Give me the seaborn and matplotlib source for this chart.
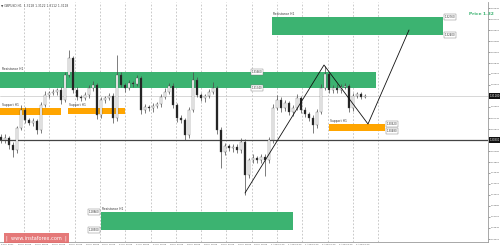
import numpy as np
import pandas as pd
import matplotlib
matplotlib.use("Agg")
import matplotlib.pyplot as plt
from matplotlib.patches import Rectangle
from matplotlib.transforms import blended_transform_factory
import seaborn as sns

# ---------------- data ----------------
closes = [1.3030, 1.3034, 1.3020, 1.3010, 1.3054, 1.3090, 1.3070, 1.3064, 1.3068, 1.3050,
          1.3100, 1.3120, 1.3124, 1.3126, 1.3130, 1.3110, 1.3160, 1.3194, 1.3130, 1.3116,
          1.3114, 1.3120, 1.3134, 1.3140, 1.3080, 1.3110, 1.3114, 1.3118, 1.3074, 1.3160,
          1.3140, 1.3134, 1.3144, 1.3142, 1.3154, 1.3090, 1.3096, 1.3094, 1.3098, 1.3102,
          1.3116, 1.3126, 1.3138, 1.3100, 1.3074, 1.3070, 1.3040, 1.3090, 1.3150, 1.3120,
          1.3114, 1.3118, 1.3126, 1.3134, 1.3050, 1.3006, 1.3018, 1.3014, 1.3016, 1.3010,
          1.3026, 1.2960, 1.2990, 1.2994, 1.2990, 1.2996, 1.2990, 1.3030, 1.3094, 1.3110,
          1.3094, 1.3104, 1.3086, 1.3094, 1.3114, 1.3090, 1.3082, 1.3074, 1.3060, 1.3086,
          1.3134, 1.3162, 1.3130, 1.3134, 1.3130, 1.3136, 1.3138, 1.3094, 1.3118, 1.3122,
          1.3116, 1.3118]
first_open = 1.3036
upper_wick = [0.0006, 0.0008, 0.0004, 0.0006, 0.0005, 0.0010, 0.0006, 0.0004, 0.0007, 0.0005,
              0.0006, 0.0008, 0.0005, 0.0006, 0.0004, 0.0007, 0.0006, 0.0016, 0.0005, 0.0006,
              0.0004, 0.0007, 0.0006, 0.0008, 0.0005, 0.0006, 0.0004, 0.0006, 0.0005, 0.0040,
              0.0006, 0.0005, 0.0007, 0.0004, 0.0006, 0.0005, 0.0006, 0.0004, 0.0007, 0.0005,
              0.0006, 0.0008, 0.0006, 0.0005, 0.0004, 0.0006, 0.0005, 0.0007, 0.0016, 0.0006,
              0.0005, 0.0004, 0.0007, 0.0012, 0.0005, 0.0006, 0.0007, 0.0004, 0.0006, 0.0005,
              0.0008, 0.0006, 0.0005, 0.0007, 0.0004, 0.0006, 0.0005, 0.0006, 0.0008, 0.0010,
              0.0006, 0.0007, 0.0005, 0.0006, 0.0008, 0.0004, 0.0006, 0.0005, 0.0006, 0.0007,
              0.0008, 0.0016, 0.0005, 0.0006, 0.0008, 0.0005, 0.0006, 0.0004, 0.0006, 0.0005,
              0.0004, 0.0003]
lower_wick = [0.0006, 0.0005, 0.0008, 0.0014, 0.0006, 0.0004, 0.0007, 0.0005, 0.0006, 0.0008,
              0.0005, 0.0004, 0.0006, 0.0005, 0.0007, 0.0008, 0.0004, 0.0005, 0.0006, 0.0007,
              0.0005, 0.0004, 0.0006, 0.0005, 0.0008, 0.0006, 0.0005, 0.0004, 0.0010, 0.0006,
              0.0005, 0.0007, 0.0004, 0.0006, 0.0005, 0.0008, 0.0006, 0.0005, 0.0007, 0.0004,
              0.0006, 0.0005, 0.0004, 0.0006, 0.0007, 0.0005, 0.0010, 0.0006, 0.0004, 0.0005,
              0.0006, 0.0007, 0.0005, 0.0004, 0.0008, 0.0032, 0.0006, 0.0005, 0.0007, 0.0006,
              0.0005, 0.0040, 0.0006, 0.0005, 0.0007, 0.0006, 0.0032, 0.0005, 0.0006, 0.0004,
              0.0007, 0.0005, 0.0006, 0.0008, 0.0004, 0.0006, 0.0007, 0.0005, 0.0016, 0.0006,
              0.0005, 0.0004, 0.0006, 0.0007, 0.0005, 0.0006, 0.0004, 0.0008, 0.0006, 0.0005,
              0.0004, 0.0003]

# zones: (label, start bar, end bar, top price, bottom price, kind)
zone_labels = ["Resistance H1", "Support H1", "Support H1", "Support H1",
               "Resistance H1", "Resistance H1"]
zone_start = [-0.5, -0.25, 16.75, 82.0, 67.75, 25.0]
zone_end = [93.75, 15.0, 31.0, 96.0, 110.5, 73.0]
zone_top = [1.3166, 1.3094, 1.3094, 1.3062, 1.3276, 1.2886]
zone_bottom = [1.3134, 1.3080, 1.3082, 1.3048, 1.3240, 1.2850]
zone_kind = ["green", "orange", "orange", "orange", "green", "green"]

# zigzag projection
zigzag_x = [61.0, 80.75, 91.75, 102.0]
zigzag_y = [1.2924, 1.3180, 1.3062, 1.3250]

bid_price = 1.3118
level_price = 1.3030
title_text = "\u25bc GBPUSD,H1  1.3118 1.3122 1.3112 1.3118"
price_note = "Price 1.32"
time_labels = ["24 Jul 2017", "25 Jul 00:00", "25 Jul 08:00", "25 Jul 16:00", "26 Jul 00:00",
               "26 Jul 08:00", "26 Jul 16:00", "27 Jul 00:00", "27 Jul 08:00", "27 Jul 16:00",
               "28 Jul 00:00", "28 Jul 08:00", "28 Jul 16:00", "31 Jul 00:00", "31 Jul 08:00",
               "31 Jul 16:00", "1 Aug 00:00", "1 Aug 08:00", "1 Aug 16:00", "2 Aug 00:00",
               "2 Aug 08:00", "2 Aug 16:00"]
price_ticks = [1.3294, 1.3272, 1.3250, 1.3228, 1.3206, 1.3184, 1.3162, 1.3140, 1.3118,
               1.3096, 1.3074, 1.3052, 1.3030, 1.3008, 1.2986, 1.2964, 1.2942, 1.2920,
               1.2898, 1.2876, 1.2854, 1.2832]

# ---------------- styling ----------------
sns.set_theme(style="white")
plt.rcParams['font.family'] = ['DejaVu Sans']

W, H = 500, 247
fig = plt.figure(figsize=(W / 100, H / 100), dpi=100)
fig.patch.set_facecolor("white")
ax = fig.add_axes([0.0, 5 / H, 488 / W, 240 / H])
ax.set_facecolor("white")

x_min, x_max = -0.25, 121.75
y_min, y_max = 1.2826, 1.3306
ax.set_xlim(x_min, x_max)
ax.set_ylim(y_min, y_max)

GREEN = "#3cb371"
ORANGE = "#ffa500"

# vertical dashed grid
grid_pos = [5.75 + 6.325 * k for k in range(15)]
for g in grid_pos:
    ax.axvline(g, color="#b4b4b4", lw=0.5, ls=(0, (2.5, 2.5)), zorder=0)

# zones
for lab, x0, x1, t, b, kind in zip(zone_labels, zone_start, zone_end, zone_top, zone_bottom, zone_kind):
    col = GREEN if kind == "green" else ORANGE
    ax.add_patch(Rectangle((x0, b), x1 - x0, t - b, facecolor=col, edgecolor="none", zorder=1))
    ax.text(max(x0, 0) + 0.2, t + 0.0002, lab, fontsize=2.2, color="#333333",
            ha="left", va="bottom", zorder=5)

# horizontal lines
ax.axhline(level_price, color="#444444", lw=0.9, zorder=2)
ax.axhline(bid_price, color="#c8c8c8", lw=0.5, zorder=2)

# candles
opens = [first_open] + closes[:-1]
df = pd.DataFrame({"bar": np.arange(len(closes)), "open": opens, "close": closes,
                   "up": upper_wick, "dn": lower_wick})
df["high"] = df[["open", "close"]].max(axis=1) + df["up"]
df["low"] = df[["open", "close"]].min(axis=1) - df["dn"]
ax.vlines(df["bar"], df["low"], df["high"], color="#4a4a4a", lw=0.5, zorder=3)
bull = df["close"] >= df["open"]
for sel, face in [(bull, "white"), (~bull, "#1e1e1e")]:
    d = df[sel]
    h = (d["close"] - d["open"]).abs().clip(lower=0.00015)
    ax.bar(d["bar"], h, bottom=d[["open", "close"]].min(axis=1), width=0.55,
           color=face, edgecolor="#4a4a4a", linewidth=0.25, zorder=4)

# zigzag
zz = pd.DataFrame({"x": zigzag_x, "y": zigzag_y})
sns.lineplot(data=zz, x="x", y="y", ax=ax, color="#111111", lw=0.6, sort=False,
             estimator=None, zorder=6)

# price tags on zones
def tag(x, y, ha):
    ax.text(x, y, f"{y:.5f}", fontsize=1.9, color="#333333", ha=ha, va="center", zorder=7,
            bbox=dict(boxstyle="square,pad=0.25", facecolor="white", edgecolor="#777777", lw=0.3))

tag(zone_end[4] + 0.4, zone_top[4], "left")
tag(zone_end[4] + 0.4, zone_bottom[4], "left")
tag(62.75, zone_top[0], "left")
tag(62.75, zone_bottom[0], "left")
tag(zone_end[3] + 0.4, zone_top[3], "left")
tag(zone_end[3] + 0.4, zone_bottom[3], "left")
tag(zone_start[5] - 0.4, zone_top[5], "right")
tag(zone_start[5] - 0.4, zone_bottom[5], "right")

# axes styling
for s in ["top", "left"]:
    ax.spines[s].set_visible(False)
for s in ["right", "bottom"]:
    ax.spines[s].set_color("#9a9a9a")
    ax.spines[s].set_linewidth(0.6)
ax.yaxis.tick_right()
ax.set_yticks(price_ticks)
ax.set_yticklabels([f"{p:.5f}" for p in price_ticks])
ax.tick_params(axis="y", labelsize=1.6, colors="#555555", length=1.2, width=0.4, pad=0.6)

# time labels: left-aligned, about every 17 px
label_pos = [0.0 + 4.225 * k for k in range(len(time_labels))]
ax.set_xticks(label_pos)
ax.set_xticklabels(time_labels, ha="left")
ax.tick_params(axis="x", labelsize=1.6, colors="#555555", length=0.8, width=0.4, pad=0.4)
ax.set_xlabel("")
ax.set_ylabel("")

# highlighted price labels on the axis
tr = blended_transform_factory(ax.transAxes, ax.transData)
for p in [bid_price, level_price]:
    ax.text(1.003, p, f"{p:.5f}", transform=tr, fontsize=1.85, color="white", ha="left",
            va="center", clip_on=False, zorder=8,
            bbox=dict(boxstyle="square,pad=0.25", facecolor="#111111", edgecolor="none"))

# title and notes
ax.text(0.002, 0.995, title_text, transform=ax.transAxes, fontsize=2.2, color="#444444",
        ha="left", va="top")
fig.text(469 / W, 1 - 14 / H, price_note, fontsize=3.2, color=GREEN, fontweight="bold",
         ha="left", va="center")

# watermark
fig.text(6 / W, 1 - 238 / H, "|  www.instaforex.com  |", fontsize=3.6, color="white",
         ha="left", va="center",
         bbox=dict(boxstyle="square,pad=0.5", facecolor="#e36b6b", edgecolor="none", alpha=0.9))

fig.savefig("out.png", dpi=100, facecolor="white")
